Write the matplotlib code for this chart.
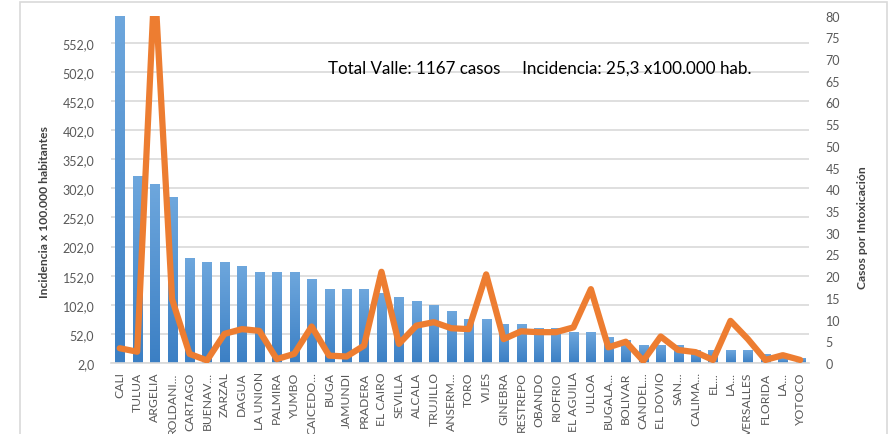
import numpy as np
import matplotlib
matplotlib.use("Agg")
import matplotlib.pyplot as plt
from matplotlib.ticker import FuncFormatter, MultipleLocator, FixedLocator
from matplotlib.patches import Rectangle

plt.rcParams['font.family'] = ['Lato', 'DejaVu Sans']

municipios = ["CALI", "TULUA", "ARGELIA", "ROLDANI...", "CARTAGO", "BUENAV...",
              "ZARZAL", "DAGUA", "LA UNION", "PALMIRA", "YUMBO", "CAICEDO...",
              "BUGA", "JAMUNDI", "PRADERA", "EL CAIRO", "SEVILLA", "ALCALA",
              "TRUJILLO", "ANSERM...", "TORO", "VIJES", "GINEBRA", "RESTREPO",
              "OBANDO", "RIOFRIO", "EL AGUILA", "ULLOA", "BUGALA...", "BOLIVAR",
              "CANDEL...", "EL DOVIO", "SAN...", "CALIMA...", "EL...", "LA...",
              "VERSALLES", "FLORIDA", "LA...", "YOTOCO"]

# incidencia x 100.000 hab (eje izquierdo)
incidencia = [640, 323, 308, 286, 181, 174, 174, 167, 158, 158,
              158, 145, 129, 129, 129, 121, 114, 107, 100, 91,
              76, 76, 69, 69, 62, 62, 54, 54, 46, 40,
              32, 32, 32, 24, 24, 24, 24, 17, 12, 9]

# casos por intoxicacion (eje derecho)
casos = [3.4, 2.6, 88, 14.7, 2.1, 0.6, 6.7, 7.8, 7.4, 0.9,
         2.1, 8.4, 1.7, 1.5, 4.0, 21.0, 4.4, 8.6, 9.4, 8.0,
         7.8, 20.4, 5.5, 7.3, 7.1, 7.1, 8.2, 17.0, 3.6, 4.9,
         0.5, 6.1, 3.0, 2.5, 0.7, 9.7, 5.5, 0.7, 1.8, 0.7]

fig = plt.figure(figsize=(8.9, 4.35), dpi=100)
fig.patches.append(Rectangle((20 / 890, -0.05), 867 / 890, 1.05 - 3 / 435,
                             transform=fig.transFigure, fill=False,
                             edgecolor="#d9d9d9", linewidth=1.2))

ax = fig.add_axes([111 / 890, (435 - 364) / 435, 698 / 890, 347.5 / 435])
ax2 = ax.twinx()
ax.set_zorder(1)
ax2.set_zorder(2)
ax.patch.set_visible(False)

x = np.arange(len(municipios))
w = 0.52
y_min, y_max = 2, 599
grad = np.linspace(0, 1, 256).reshape(-1, 1)
cmap = matplotlib.colors.LinearSegmentedColormap.from_list("b", ["#3b7fc4", "#6ea7dd"])
for xi, v in zip(x, incidencia):
    top = min(v, y_max)
    ax.imshow(grad, extent=(xi - w / 2, xi + w / 2, y_min, top), origin="lower",
              aspect="auto", cmap=cmap, zorder=2, clip_on=True)

ax.set_xlim(-0.5, len(municipios) - 0.5)
ax.set_ylim(y_min, y_max)
ax.yaxis.set_major_locator(FixedLocator(np.arange(2, 553, 50)))
ax.yaxis.set_major_formatter(FuncFormatter(lambda v, p: f"{v:.1f}".replace(".", ",")))
ax.grid(axis="y", color="#d9d9d9", linewidth=1.2, zorder=0)
ax.set_axisbelow(True)

ax2.plot(x, casos, color="#ed7d31", linewidth=4.5, solid_joinstyle="round",
         solid_capstyle="round")
ax2.set_ylim(0, 80)
ax2.yaxis.set_major_locator(MultipleLocator(5))

for a in (ax, ax2):
    for s in a.spines.values():
        s.set_visible(False)
    a.tick_params(length=0, labelsize=9, labelcolor="#595959")
ax.spines["bottom"].set_visible(True)
ax.spines["bottom"].set_color("#d9d9d9")
ax.spines["bottom"].set_linewidth(1.2)
ax.tick_params(axis="y", pad=12)
ax2.tick_params(axis="y", pad=12)

ax.set_xticks(x)
ax.set_xticklabels(municipios, rotation=90, fontsize=8.7, color="#595959")
ax.tick_params(axis="x", pad=6)

fig.text(45 / 890, 1 - 212 / 435, "Incidencia x 100.000 habitantes", rotation=90,
         ha="center", va="center", fontsize=8.7, fontweight="bold", color="#404040")
fig.text(862 / 890, 1 - 228 / 435, "Casos por Intoxicación", rotation=90,
         ha="center", va="center", fontsize=8.7, fontweight="bold", color="#404040")
fig.text(328 / 890, 1 - 69 / 435,
         "Total Valle: 1167 casos     Incidencia: 25,3 x100.000 hab.",
         ha="left", va="center", fontsize=12.25, color="#000000")

fig.savefig("out.png", dpi=100)
